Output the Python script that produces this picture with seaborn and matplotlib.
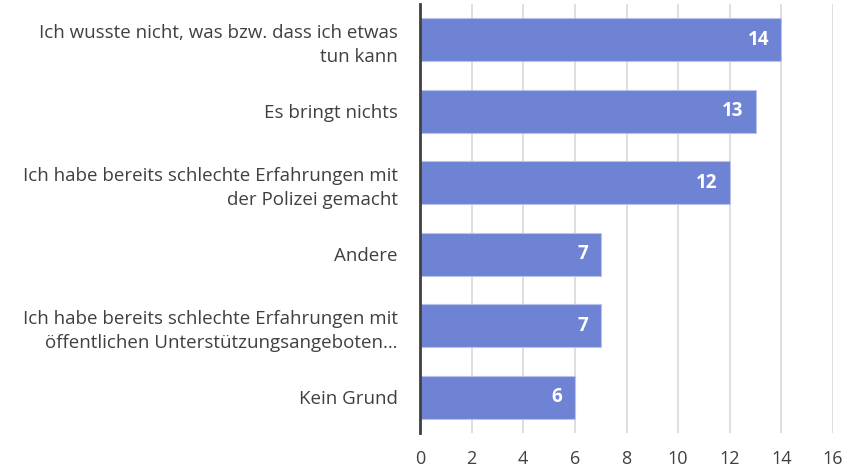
import matplotlib
matplotlib.use("Agg")
import matplotlib.pyplot as plt
import seaborn as sns
import pandas as pd

categories = [
    "Ich wusste nicht, was bzw. dass ich etwas\ntun kann",
    "Es bringt nichts",
    "Ich habe bereits schlechte Erfahrungen mit\nder Polizei gemacht",
    "Andere",
    "Ich habe bereits schlechte Erfahrungen mit\nöffentlichen Unterstützungsangeboten…",
    "Kein Grund",
]
values = [14, 13, 12, 7, 7, 6]
xticks = [0, 2, 4, 6, 8, 10, 12, 14, 16]

df = pd.DataFrame({"Grund": categories, "Anzahl": values})

sns.set_theme(style="white")
plt.rcParams["font.family"] = ["Open Sans", "DejaVu Sans"]

fig = plt.figure(figsize=(8.44, 4.70), dpi=100)
ax = fig.add_axes([0.4976, 0.0787, 0.4894, 0.9128])

ax.set_axisbelow(True)
ax.grid(axis="x", color="#d9d9d9", linewidth=1.2)
sns.barplot(data=df, x="Anzahl", y="Grund", orient="h", color="#6a7fd3",
            saturation=1, width=0.6, edgecolor="#b8c4ee", linewidth=0.8,
            alpha=0.97, ax=ax)

for p, v in zip(ax.patches, values):
    ax.annotate(str(v), xy=(p.get_width(), p.get_y() + p.get_height() / 2),
                xytext=(-9, 0), textcoords="offset points", ha="right",
                va="center", color="white", fontweight="bold", fontsize=13.5)

ax.set_xlim(0, 16)
ax.set_ylim(len(categories) - 0.5, -0.5)
ax.set_xticks(xticks)
ax.set_xticklabels([str(x) for x in xticks], fontsize=13, color="#404040")
ax.tick_params(axis="y", labelsize=13.5, colors="#404040", length=0, pad=16)
ax.tick_params(axis="x", length=0, pad=12)
for lab in ax.get_yticklabels():
    lab.set_multialignment("right")
    lab.set_linespacing(1.45)
ax.set_xlabel("")
ax.set_ylabel("")
for s in ["top", "right", "bottom"]:
    ax.spines[s].set_visible(False)
ax.spines["left"].set_color("#404040")
ax.spines["left"].set_linewidth(2)

fig.savefig("out.png", dpi=100)
